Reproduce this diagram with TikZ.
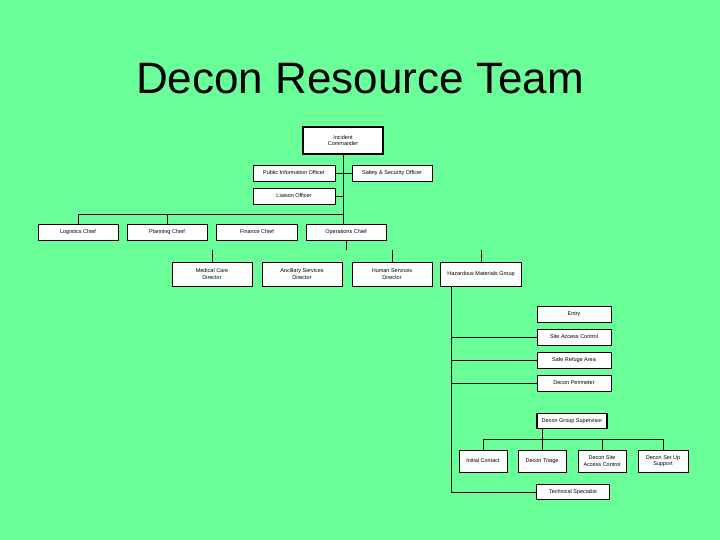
\documentclass[tikz,border=0pt]{standalone}
\usepackage{fontspec}
\setmainfont{Liberation Sans}
\usepackage{tikz}
\usetikzlibrary{positioning, calc}
\definecolor{mGreen}{HTML}{6BFF99}

\begin{document}
\begin{tikzpicture}[x=1pt, y=-1pt,
    box/.style={draw=black, line width=0.5pt, fill=white, inner sep=0pt, align=center,
      font=\fontsize{5.5}{6.5}\selectfont},
    headbox/.style={box, line width=1.3pt},
    link/.style={draw=black, line width=0.6pt}]
    \fill[mGreen] (0,0) rectangle (720,540);
    \useasboundingbox (0,0) rectangle (720,540);
    \node[font=\fontsize{44}{50}\selectfont] (title) at (360,79) {Decon Resource Team};

    % command staff
    \node[headbox, minimum width=80, minimum height=27] (ic) at (343,140.5) {Incident\\Commander};
    \node[box, minimum width=82, minimum height=16] (pio) at (294,173) {Public Information Officer};
    \node[box, minimum width=80, minimum height=16] (safety) at (392,173) {Safety \& Security Officer};
    \node[box, minimum width=82, minimum height=16] (liaison) at (294,196) {Liaison Officer};

    % section chiefs
    \node[box, minimum width=80, minimum height=16] (logistics) at (78,232) {Logistics Chief};
    \node[box, minimum width=80, minimum height=16] (planning) at (167,232) {Planning Chief};
    \node[box, minimum width=81, minimum height=16] (finance) at (257,232) {Finance Chief};
    \node[box, minimum width=80, minimum height=16] (ops) at (346,232) {Operations Chief};

    % branch directors
    \node[box, minimum width=80, minimum height=24] (medical) at (212,274) {Medical Care\\Director};
    \node[box, minimum width=80, minimum height=24] (ancillary) at (302,274) {Ancillary Services\\Director};
    \node[box, minimum width=80, minimum height=24] (human) at (392,274) {Human Services\\Director};
    \node[box, minimum width=81, minimum height=24] (hazmat) at (481,274) {Hazardous Materials Group};

    % hazmat units
    \node[box, minimum width=74, minimum height=16] (entry) at (574,314) {Entry};
    \node[box, minimum width=74, minimum height=16] (siteaccess) at (574,337) {Site Access Control};
    \node[box, minimum width=74, minimum height=16] (refuge) at (574,360) {Safe Refuge Area};
    \node[box, minimum width=74, minimum height=16] (perimeter) at (574,383) {Decon Perimeter};
    \node[headbox, minimum width=70, minimum height=15] (dgs) at (572,421) {Decon Group Supervisor};
    \node[box, minimum width=48, minimum height=22] (initial) at (483,461) {Initial Contact};
    \node[box, minimum width=48, minimum height=22] (triage) at (542,461) {Decon Triage};
    \node[box, minimum width=48, minimum height=22] (dsac) at (602,461) {Decon Site\\Access Control};
    \node[box, minimum width=50, minimum height=22] (setup) at (663,461) {Decon Set Up\\Support};
    \node[box, minimum width=73, minimum height=15] (tech) at (573,492) {Technical Specialist};

    % connectors
    \coordinate (cmdbar) at (343,214);
    \coordinate (spine) at (451,492);
    \coordinate (dbar) at (542,439);
    \draw[link] (ic.south) -- (cmdbar);
    \draw[link] (pio.east) -- (safety.west);
    \draw[link] (liaison.east) -- (liaison.east -| cmdbar);
    \draw[link] (logistics.north) |- (cmdbar);
    \draw[link] (planning.north) -- (planning.north |- cmdbar);
    \draw[link] (cmdbar) -- (ops.north -| cmdbar);
    \draw[link] (ops.south) -- ++(0,10);
    \foreach \n in {medical, human, hazmat}
      \draw[link] (\n.north) -- ++(0,-12);
    \draw[link] (hazmat.south -| spine) -- (spine) -- (tech.west);
    \foreach \n in {siteaccess, refuge, perimeter}
      \draw[link] (\n.west) -- (\n.west -| spine);
    \draw[link] (triage.north |- dgs.south) -- (triage.north);
    \draw[link] (initial.north) |- (setup.north |- dbar) -- (setup.north);
    \draw[link] (dsac.north) -- (dsac.north |- dbar);
\end{tikzpicture}
\end{document}
